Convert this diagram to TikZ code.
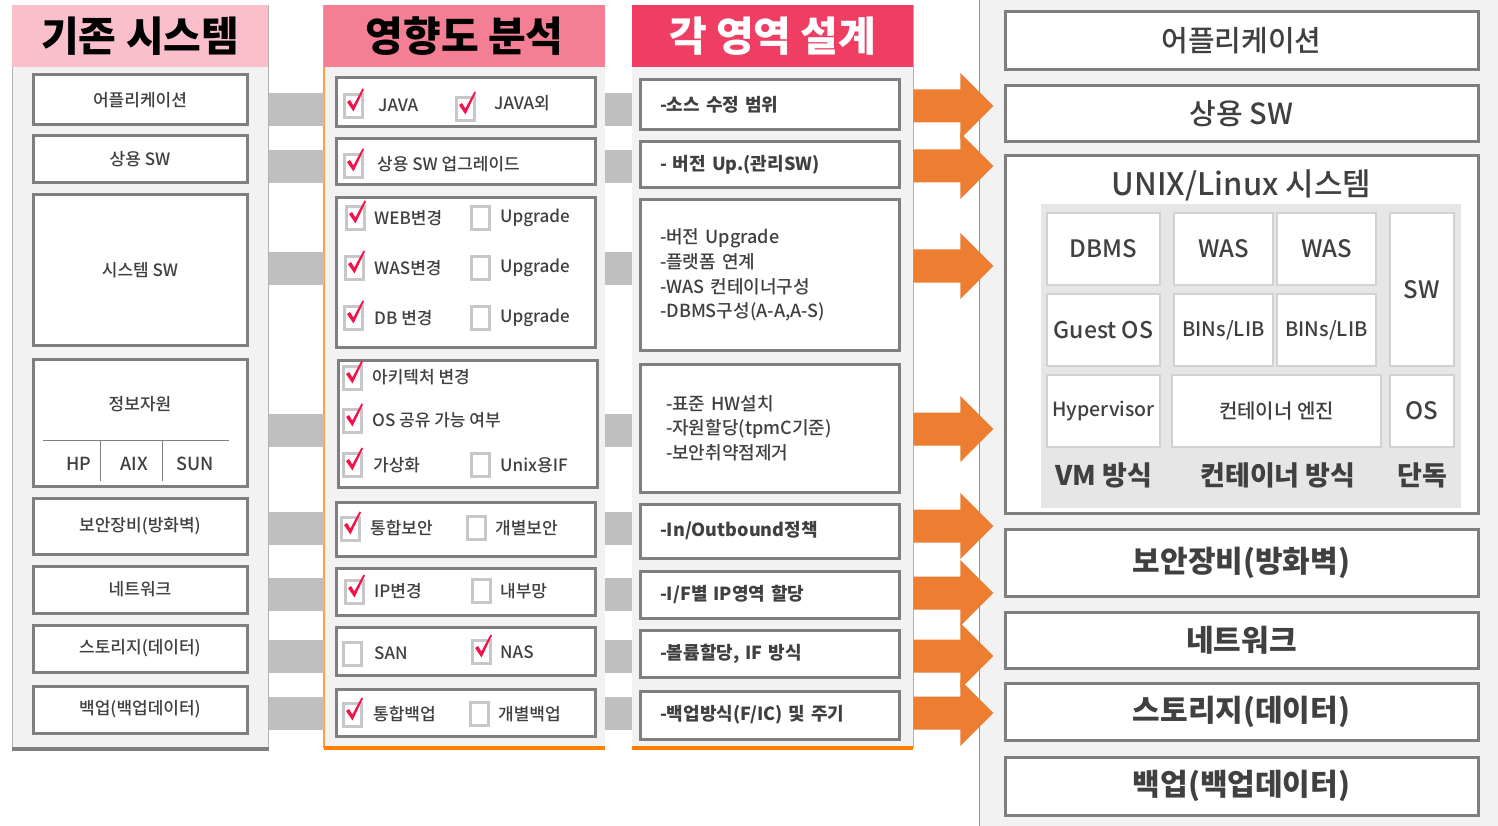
\documentclass[tikz,border=0pt]{standalone}
\usepackage{fontspec}
\setmainfont{Noto Sans CJK KR}
\newfontfamily\medfont{Noto Sans CJK KR Medium}
\usetikzlibrary{positioning}

\definecolor{panelbg}{HTML}{F2F2F2}
\definecolor{framegray}{HTML}{7F7F7F}
\definecolor{bargray}{HTML}{BFBFBF}
\definecolor{txt}{HTML}{404040}
\definecolor{headA}{HTML}{FABFCB}
\definecolor{headB}{HTML}{F47E93}
\definecolor{headC}{HTML}{EF3D63}
\definecolor{tickred}{HTML}{F5124A}
\definecolor{fatorange}{HTML}{ED7D31}
\definecolor{lineorange}{HTML}{FF7F00}
\definecolor{cellgray}{HTML}{E6E6E6}
\definecolor{pinkline}{HTML}{E0707F}

\newcommand{\fsz}[1]{\fontsize{#1}{#1}\selectfont}

\tikzset{
  unchk/.pic={\draw[draw=black!22, line width=3pt, fill=white] (-9,-11.5) rectangle (9,11.5);},
  chk/.pic={\draw[draw=black!22, line width=3pt, fill=white] (-9,-11.5) rectangle (9,11.5);
    \fill[tickred] (-6,-4) -- (-3,-6) -- (0.3,-0.5) -- (9.5,-17.5) -- (11,-16.5) -- (0.5,5.5) -- cycle;}
}

\begin{document}
\begin{tikzpicture}[x=1pt, y=-1pt,
    sized/.style 2 args={minimum width=#1, minimum height=#2},
    panel/.style={fill=panelbg, inner sep=0pt, anchor=north west},
    head/.style={inner sep=0pt, anchor=north west, font=\fsz{41}\bfseries},
    box/.style={draw=framegray, line width=3pt, fill=white, inner sep=0pt, text=txt, font=\fsz{17}\medfont},
    dbox/.style={box, text width=219, align=left, font=\fontsize{18}{24.7}\selectfont\bfseries},
    tbox/.style={box, font=\fsz{29}\medfont},
    cell/.style={draw=black!18, line width=1.5pt, fill=white, inner sep=0pt, text=txt, font=\fsz{24}\medfont},
    opt/.style={anchor=west, inner sep=0pt, text=txt, font=\fsz{17}\medfont},
    lbl/.style={inner sep=0pt, text=txt, font=\fsz{17}\medfont},
    link/.style={bargray, line width=33pt}]
\useasboundingbox (0,0) rectangle (1498,826);

% target system on the right
\node[panel, sized={519}{826}] (target) at (979,0) {};
\draw[pinkline, line width=1pt] (target.north west) -- (target.south west);

% the three columns
\node[panel, draw=black!30, line width=1pt, sized={256}{743}] (old) at (12,5) {};
\node[panel, sized={281}{743}] (imp) at (324,5) {};
\node[panel, sized={281}{743}] (des) at (632,5) {};
\draw[lineorange!75, line width=1.5pt] (imp.north west) -- (imp.south west);
\draw[lineorange!75, line width=1.5pt] (des.north east) -- (des.south east);
\draw[framegray, line width=4pt] (old.south west) -- (old.south east);
\draw[lineorange, line width=4pt] (imp.south west) -- (imp.south east);
\draw[lineorange, line width=4pt] (des.south west) -- (des.south east);

\node[head, fill=headA, sized={256}{62}] (hOld) at (12,5) {기존 시스템};
\node[head, fill=headB, sized={281}{62}] (hImp) at (324,5) {영향도 분석};
\node[head, fill=headC, sized={281}{62}, text=white] (hDes) at (632,5) {각 영역 설계};

% grey links between the columns
\foreach \y in {109.5,166.5,268.5,430.5,528.5,594,656.5,713.5} {
  \draw[link] (old.east |- 0,\y) -- (imp.west |- 0,\y);
  \draw[link] (imp.east |- 0,\y) -- (des.west |- 0,\y);
}

% existing system
\node[box, sized={214}{50}] (sys1) at (140,100) {어플리케이션};
\node[box, sized={214}{47}] (sys2) at (140,159.5) {상용 SW};
\node[box, sized={214}{150}] (sys3) at (140,270) {시스템 SW};
\node[box, sized={214}{127}] (sys4) at (140,422.5) {};
\node[box, sized={214}{56}] (sys5) at (140,526) {보안장비(방화벽)};
\node[box, sized={214}{47}] (sys6) at (140,589.5) {네트워크};
\node[box, sized={214}{47}] (sys7) at (140,648.5) {스토리지(데이터)};
\node[box, sized={214}{47}] (sys8) at (140,709.5) {백업(백업데이터)};

\node[lbl] (info) at (140,404) {정보자원};
\draw[framegray, line width=1pt] (43,440) -- (229,440);
\draw[framegray, line width=1pt] (100,440) -- (100,481);
\draw[framegray, line width=1pt] (162,440) -- (162,481);
\node[lbl, font=\fsz{18}\medfont] (hp) at (79,464) {HP};
\node[lbl, font=\fsz{18}\medfont] (aix) at (134.5,464) {AIX};
\node[lbl, font=\fsz{18}\medfont] (sun) at (195,464) {SUN};

% impact analysis
\node[box, sized={259}{49}] (imp1) at (465.5,102.5) {};
\node[box, sized={259}{46}] (imp2) at (465.5,162) {};
\node[box, sized={259}{149}] (imp3) at (465.5,272.5) {};
\node[box, sized={259}{127}] (imp4) at (467.5,423.5) {};
\node[box, sized={259}{54}] (imp5) at (465.5,529) {};
\node[box, sized={259}{47}] (imp6) at (465.5,591.5) {};
\node[box, sized={259}{48}] (imp7) at (465.5,651) {};
\node[box, sized={259}{47}] (imp8) at (465.5,712.5) {};

\pic at (353,106) {chk};  \node[opt] (o1a) at (378,105) {JAVA};
\pic at (465,109) {chk};  \node[opt] (o1b) at (494,103) {JAVA외};
\pic at (353,166) {chk};  \node[opt] (o2a) at (377,164) {상용 SW 업그레이드};
\pic at (355,218) {chk};  \node[opt] (o3a) at (374,218) {WEB변경};
\pic at (480,218) {unchk};\node[opt] (o3b) at (500,218) {Upgrade};
\pic at (354,268) {chk};  \node[opt] (o4a) at (374,268) {WAS변경};
\pic at (480,268) {unchk};\node[opt] (o4b) at (500,268) {Upgrade};
\pic at (353,318) {chk};  \node[opt] (o5a) at (374,318) {DB 변경};
\pic at (480,318) {unchk};\node[opt] (o5b) at (500,318) {Upgrade};
\pic at (352,378) {chk};  \node[opt] (o6a) at (372,377) {아키텍처 변경};
\pic at (352,421) {chk};  \node[opt] (o7a) at (372,420) {OS 공유 가능 여부};
\pic at (352,465) {chk};  \node[opt] (o8a) at (373,465) {가상화};
\pic at (480,465) {unchk};\node[opt] (o8b) at (500,465) {Unix용IF};
\pic at (350,529) {chk};  \node[opt] (o9a) at (370,528) {통합보안};
\pic at (476,528) {unchk};\node[opt] (o9b) at (495,528) {개별보안};
\pic at (354,592) {chk};  \node[opt] (o10a) at (374,591) {IP변경};
\pic at (481,591) {unchk};\node[opt] (o10b) at (500,591) {내부망};
\pic at (352,654) {unchk};\node[opt] (o11a) at (374,653) {SAN};
\pic at (481,652) {chk};  \node[opt] (o11b) at (500,652) {NAS};
\pic at (352,715) {chk};  \node[opt] (o12a) at (373,714) {통합백업};
\pic at (479,714) {unchk};\node[opt] (o12b) at (498,714) {개별백업};

% design per area
\node[dbox, sized={259}{50}] (des1) at (769.5,105) {-소스 수정 범위};
\node[dbox, sized={259}{46}] (des2) at (769.5,165) {- 버전 Up.(관리SW)};
\node[dbox, sized={259}{150}, font=\fontsize{18}{24.7}\selectfont\medfont] (des3) at (769.5,275)
  {-버전 Upgrade\\-플랫폼 연계\\-WAS 컨테이너구성\\-DBMS구성(A-A,A-S)};
\node[dbox, sized={259}{128}, text width=207, font=\fontsize{18}{24.7}\selectfont\medfont] (des4) at (769.5,428)
  {-표준 HW설치\\-자원할당(tpmC기준)\\-보안취약점제거};
\node[dbox, sized={259}{54}] (des5) at (769.5,531) {-In/Outbound정책};
\node[dbox, sized={259}{47}] (des6) at (769.5,594.5) {-I/F별 IP영역 할당};
\node[dbox, sized={259}{47}] (des7) at (769.5,653.5) {-볼륨할당, IF 방식};
\node[dbox, sized={259}{48}] (des8) at (769.5,715) {-백업방식(F/IC) 및 주기};

% orange arrows into the target system
\foreach \y in {106,166,266,429,526,593,656,713}
  \fill[fatorange] (des.east |- 0,\y) ++(0,-16.5) -- ++(47,0) -- ++(0,-16.5) -- ++(33,33)
    -- ++(-33,33) -- ++(0,-16.5) -- ++(-47,0) -- cycle;

% target system boxes
\node[tbox, sized={473}{58}] (tgt1) at (1241.5,41) {어플리케이션};
\node[tbox, sized={473}{56}] (tgt2) at (1241.5,114) {상용 SW};
\node[tbox, sized={473}{357}] (tgt3) at (1241.5,334.5) {};
\node[tbox, sized={473}{67}, font=\fsz{30}\bfseries] (tgt4) at (1241.5,562.5) {보안장비(방화벽)};
\node[tbox, sized={473}{56}, font=\fsz{30}\bfseries] (tgt5) at (1241.5,640) {네트워크};
\node[tbox, sized={473}{57}, font=\fsz{30}\bfseries] (tgt6) at (1241.5,711.5) {스토리지(데이터)};
\node[tbox, sized={473}{58}, font=\fsz{30}\bfseries] (tgt7) at (1241.5,786) {백업(백업데이터)};

\node[lbl, font=\fsz{31}\medfont] (unix) at (1241.5,185) {UNIX/Linux 시스템};
\fill[cellgray] (1041,204) rectangle (1461,508);

\node[cell, sized={113}{72}] (dbms) at (1103.5,249) {DBMS};
\node[cell, sized={113}{72}, font=\fsz{23}\medfont] (guest) at (1103.5,330) {Guest OS};
\node[cell, sized={113}{72}, font=\fsz{19.5}\medfont] (hyper) at (1103.5,411) {Hypervisor};
\node[cell, sized={99}{72}] (was1) at (1223.5,249) {WAS};
\node[cell, sized={99}{72}] (was2) at (1326.5,249) {WAS};
\node[cell, sized={99}{72}, font=\fsz{20}\medfont] (bin1) at (1223.5,330) {BINs/LIB};
\node[cell, sized={99}{72}, font=\fsz{20}\medfont] (bin2) at (1326.5,330) {BINs/LIB};
\node[cell, sized={209}{72}, font=\fsz{20}\medfont] (engine) at (1276.5,411) {컨테이너 엔진};
\node[cell, sized={64}{153}] (sw) at (1422,289.5) {SW};
\node[cell, sized={64}{72}] (os) at (1422,411) {OS};

\node[lbl, font=\fsz{27}\bfseries] (vm) at (1104,475) {VM 방식};
\node[lbl, font=\fsz{27}\bfseries] (ctr) at (1278,475) {컨테이너 방식};
\node[lbl, font=\fsz{27}\bfseries] (solo) at (1422,475) {단독};
\end{tikzpicture}
\end{document}
